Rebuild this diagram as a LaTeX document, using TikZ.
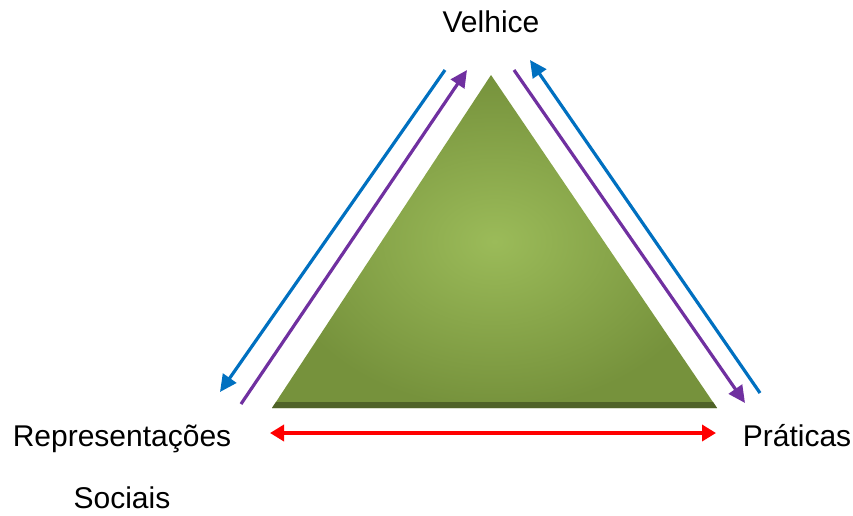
\documentclass[tikz,border=0pt]{standalone}
\usepackage{fontspec}
\setmainfont{Liberation Sans}
\usetikzlibrary{arrows.meta}
\definecolor{tblue}{HTML}{0070C0}
\definecolor{tpurple}{HTML}{7030A0}
\definecolor{tred}{HTML}{FF0000}
\definecolor{gdark}{HTML}{76923C}
\definecolor{glight}{HTML}{9BBB59}
\definecolor{gbase}{HTML}{4F6228}
\tikzset{
  label/.style={font=\fontsize{30}{32}\selectfont, inner sep=0pt, anchor=base},
  sidearrow/.style={line width=3.2pt, -{Triangle[length=17pt,width=16pt]}},
  redarrow/.style={line width=3.5pt, tred, {Triangle[length=14pt,width=16pt]}-{Triangle[length=14pt,width=16pt]}}
}
\begin{document}
\begin{tikzpicture}[x=1pt,y=-1pt]
\useasboundingbox (0,0) rectangle (853,515);
% triangle
\shade[inner color=glight, outer color=gdark, shading=radial]
  (491,75) -- (717,408) -- (272,408) -- cycle;
\fill[gbase] (276,402) -- (713,402) -- (717,408) -- (272,408) -- cycle;
% labels
\node[label] (vel) at (491,32) {Velhice};
\node[label] (rep) at (122,446) {Representações};
\node[label] (soc) at (122,508) {Sociais};
\node[label] (pra) at (797,446) {Práticas};
% arrow endpoints
\coordinate (b1s) at (445,70);
\coordinate (b1e) at (220,392);
\coordinate (p1s) at (241,404);
\coordinate (p1e) at (467,70);
\coordinate (p2s) at (514,70);
\coordinate (p2e) at (745,403);
\coordinate (b2s) at (760,393);
\coordinate (b2e) at (530,60);
\coordinate (rs) at (270,433);
\coordinate (re) at (716,433);
\draw[sidearrow, tblue] (b1s) -- (b1e);
\draw[sidearrow, tpurple] (p1s) -- (p1e);
\draw[sidearrow, tpurple] (p2s) -- (p2e);
\draw[sidearrow, tblue] (b2s) -- (b2e);
\draw[redarrow] (rs) -- (re);
\end{tikzpicture}
\end{document}
